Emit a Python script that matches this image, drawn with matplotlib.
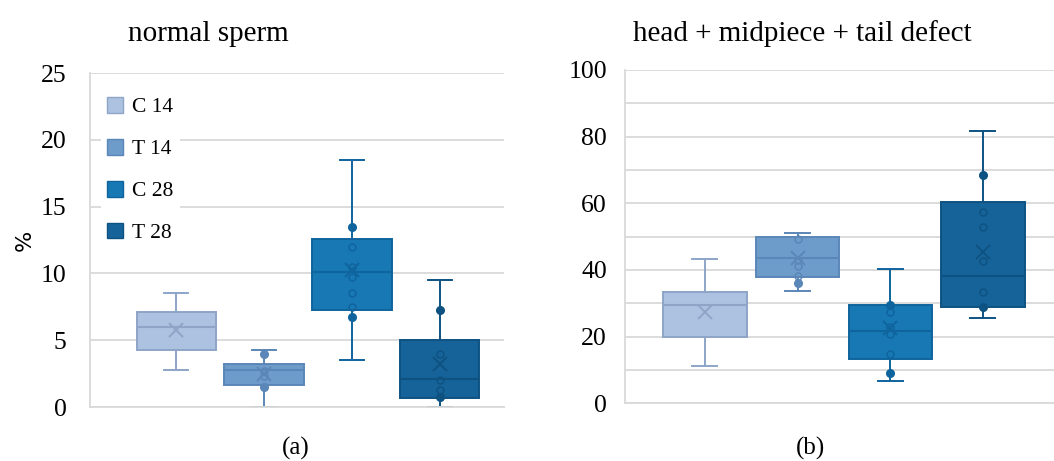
import matplotlib.pyplot as plt
from matplotlib.patches import Patch

plt.rcParams['font.family'] = ['Liberation Serif', 'DejaVu Serif']

groups = ['C 14', 'T 14', 'C 28', 'T 28']
fills = ['#adc2e0', '#6d9bca', '#1778b4', '#16639a']
edges = ['#8ea5c8', '#5a86b8', '#0f649d', '#0e5282']

# (a) normal sperm, %
a_whislo = [2.75, 0.0, 3.5, 0.0]
a_q1 = [4.25, 1.65, 7.25, 0.7]
a_med = [6.0, 2.8, 10.1, 2.1]
a_q3 = [7.1, 3.25, 12.55, 5.0]
a_whishi = [8.5, 4.25, 18.5, 9.5]
a_mean = [5.75, 2.5, 10.25, 3.2]
a_filled = [[], [4.0, 1.5], [13.45, 6.75], [7.25, 0.75]]
a_hollow = [[], [2.7, 2.35], [12.0, 10.5, 9.75, 8.5, 7.5], [4.0, 2.0, 1.25]]

# (b) head + midpiece + tail defect, %
b_whislo = [11.3, 33.6, 6.8, 25.5]
b_q1 = [19.8, 37.8, 13.2, 29.0]
b_med = [29.4, 43.6, 21.8, 38.2]
b_q3 = [33.4, 49.9, 29.6, 60.4]
b_whishi = [43.3, 51.2, 40.3, 81.8]
b_mean = [27.5, 43.7, 22.5, 45.3]
b_filled = [[], [36.0], [9.2, 29.6], [68.6, 28.8]]
b_hollow = [[], [49.2, 43.0, 41.3, 38.3], [27.3, 22.9, 20.7, 14.8], [57.5, 52.8, 42.7, 33.3]]

GRID = '#d9d9d9'


def draw(ax, whislo, q1, med, q3, whishi, mean, filled, hollow, xlim, pad):
    ax.set_axisbelow(True)
    ax.grid(axis='y', color=GRID, lw=1.3)
    for i in range(4):
        st = dict(whislo=whislo[i], q1=q1[i], med=med[i], q3=q3[i],
                  whishi=whishi[i], mean=mean[i], fliers=[])
        lp = dict(color=edges[i], lw=1.4)
        ax.bxp([st], positions=[i + 1], widths=0.9, capwidths=0.27,
               patch_artist=True, showmeans=True, showfliers=False,
               boxprops=dict(facecolor=fills[i], edgecolor=edges[i], lw=1.4),
               medianprops=dict(color=edges[i], lw=1.5),
               whiskerprops=lp, capprops=lp,
               meanprops=dict(marker='x', markersize=10, markeredgecolor=edges[i],
                              markeredgewidth=1.4))
        ax.plot([i + 1] * len(filled[i]), filled[i], 'o', ms=5.5,
                color=edges[i], zorder=4)
        ax.plot([i + 1] * len(hollow[i]), hollow[i], 'o', ms=5, mfc='none',
                mec=edges[i], mew=1.1, zorder=4)
    ax.set_xlim(*xlim)
    ax.set_xticks([])
    for s in ['top', 'right']:
        ax.spines[s].set_visible(False)
    for s in ['left', 'bottom']:
        ax.spines[s].set_color(GRID)
        ax.spines[s].set_linewidth(1.3)
    ax.tick_params(axis='y', length=0, labelsize=18.5, pad=pad)
    for lab in ax.get_yticklabels():
        lab.set_family(['Liberation Serif'])


fig = plt.figure(figsize=(10.54, 4.61), dpi=100)

ax1 = fig.add_axes([0.0854, 0.1171, 0.3928, 0.7245])
ax1.set_ylim(0, 25)
ax1.set_yticks(range(0, 26, 5))
draw(ax1, a_whislo, a_q1, a_med, a_q3, a_whishi, a_mean, a_filled, a_hollow, (0.02, 4.73), 17)
ax1.set_ylabel('%', family=['DejaVu Sans'], fontsize=16, labelpad=4)
handles = [Patch(facecolor=fills[i], edgecolor=edges[i], lw=1) for i in range(4)]
leg = ax1.legend(handles, groups, loc='upper left', bbox_to_anchor=(0.0, 0.98),
                 fontsize=15.5, frameon=True, facecolor='white', edgecolor='none',
                 framealpha=1, handlelength=0.75, handleheight=0.75,
                 handletextpad=0.4, labelspacing=1.0, borderpad=0.3)
fig.text(0.121, 0.912, 'normal sperm', fontsize=21)
fig.text(0.267, 0.015, '(a)', fontsize=18)

ax2 = fig.add_axes([0.593, 0.1251, 0.41, 0.7231])
ax2.set_ylim(0, 100)
ax2.set_yticks(range(0, 101, 10))
ax2.set_yticklabels([str(v) if v % 20 == 0 else '' for v in range(0, 101, 10)])
draw(ax2, b_whislo, b_q1, b_med, b_q3, b_whishi, b_mean, b_filled, b_hollow, (0.14, 4.8), 13)
fig.text(0.601, 0.912, 'head + midpiece + tail defect', fontsize=21)
fig.text(0.755, 0.015, '(b)', fontsize=18)

fig.savefig('out.png', dpi=100)
